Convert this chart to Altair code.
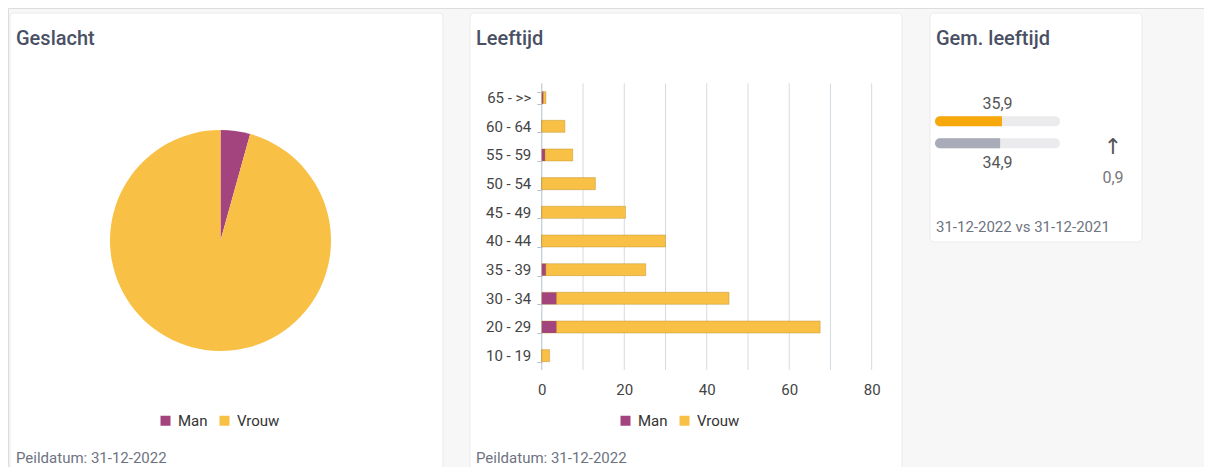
import altair as alt
import pandas as pd

# ---------------- data ----------------
age_groups = ["65 - >>", "60 - 64", "55 - 59", "50 - 54", "45 - 49",
              "40 - 44", "35 - 39", "30 - 34", "20 - 29", "10 - 19"]
man = [0.4, 0.0, 0.8, 0.0, 0.0, 0.0, 1.0, 3.6, 3.6, 0.0]
vrouw = [0.6, 5.6, 6.7, 13.0, 20.3, 30.0, 24.2, 41.8, 63.9, 1.9]
genders = ["Man", "Vrouw"]
gender_colors = ["#a3447e", "#f8c146"]
x_ticks = [0, 20, 40, 60, 80]
grid_values = [10, 20, 30, 40, 50, 60, 70, 80]

gem_labels = ["31-12-2022", "31-12-2021"]
gem_values = [35.9, 34.9]
gem_text = ["35,9", "34,9"]
gem_max = 67
gem_colors = ["#f7a80b", "#a9abb9"]
diff_text = "0,9"

FONT = "Roboto"

# ---------------- tables ----------------
rows = []
for g, m, v in zip(age_groups, man, vrouw):
    rows.append({"groep": g, "geslacht": "Man", "aantal": m, "volg": 0})
    rows.append({"groep": g, "geslacht": "Vrouw", "aantal": v, "volg": 1})
bar_df = pd.DataFrame(rows)
pie_df = pd.DataFrame({"geslacht": genders, "totaal": [sum(man), sum(vrouw)], "volg": [0, 1]})
grid_df = pd.DataFrame({"tick": grid_values})
zero_df = pd.DataFrame({"tick": [0]})
gem_df = pd.DataFrame({"datum": gem_labels, "waarde": gem_values, "tekst": gem_text,
                       "nul": [0, 0], "max": [gem_max, gem_max]})
one = pd.DataFrame({"a": [0]})

# ---------------- cards ----------------
def card(x1, x2, y1, y2):
    return alt.Chart(one).mark_rect(fill="white", stroke="#ebebeb", strokeWidth=1,
                                    cornerRadius=4).encode(
        x=alt.value(x1), x2=alt.value(x2), y=alt.value(y1), y2=alt.value(y2))

def label(txt, x, y, size, color, weight="normal", align="left", font=FONT):
    return alt.Chart(one).mark_text(text=txt, font=font, fontSize=size, color=color,
                                    fontWeight=weight, align=align,
                                    baseline="alphabetic").encode(
        x=alt.value(x), y=alt.value(y))

cards = [card(2, 435, 5, 472), card(462, 894, 5, 472), card(922, 1134, 5, 234)]

TITLE_C = "#4a5064"
FOOT_C = "#6e7382"
texts = [
    label("Geslacht", 8, 37, 20, TITLE_C, 500),
    label("Leeftijd", 468, 37, 20, TITLE_C, 500),
    label("Gem. leeftijd", 928, 37, 20, TITLE_C, 500),
    label("Peildatum: 31-12-2022", 8, 455, 15, FOOT_C),
    label("Peildatum: 31-12-2022", 468, 455, 15, FOOT_C),
    label("31-12-2022 vs 31-12-2021", 928, 223.5, 15, FOOT_C),
    label("\u2191", 1105, 146, 22, "#555555", align="center", font="DejaVu Sans"),
    label(diff_text, 1105, 175, 16, "#777777", align="center"),
]

def legend(x, y):
    return alt.Legend(orient="none", legendX=x, legendY=y, direction="horizontal",
                      title=None, symbolType="square", symbolSize=100,
                      symbolStrokeWidth=0, labelFontSize=15, labelFont=FONT,
                      labelColor="#333333", columnPadding=9, labelOffset=5,
                      padding=0, zindex=1)

# ---------------- pie ----------------
pie = alt.Chart(pie_df).mark_arc(radius=110.5, strokeWidth=0).encode(
    theta=alt.Theta("totaal:Q", stack=True),
    order=alt.Order("volg:Q", sort="ascending"),
    color=alt.Color("geslacht:N", scale=alt.Scale(domain=genders, range=gender_colors),
                    legend=legend(150, 405)),
    x=alt.value(212.5), y=alt.value(232.5),
)

# ---------------- bar chart ----------------
AXIS_C = "#b4c1cc"
x_scale = alt.Scale(domain=[0, 80], range=[533.8, 863.7], nice=False, zero=True)
y_scale = alt.Scale(domain=age_groups, range=[75.3, 362], paddingInner=0.58,
                    paddingOuter=0.29)
x_axis = alt.Axis(orient="bottom", offset=-97, title=None, domain=False, ticks=False,
                  grid=False, values=x_ticks, labelFontSize=15, labelFont=FONT,
                  labelColor="#444444", labelPadding=12, labelFlush=False, zindex=1)

grid = alt.Chart(grid_df).mark_rule(color="#d3dce2", strokeWidth=1).encode(
    x=alt.X("tick:Q", scale=x_scale, axis=x_axis),
    y=alt.value(75.3), y2=alt.value(362),
)
domain_line = alt.Chart(zero_df).mark_rule(color=AXIS_C, strokeWidth=1).encode(
    x=alt.X("tick:Q", scale=x_scale, axis=x_axis),
    y=alt.value(75.3), y2=alt.value(362),
)

bars = alt.Chart(bar_df).mark_bar(stroke="#b07a10", strokeOpacity=0.35,
                                  strokeWidth=1).encode(
    x=alt.X("aantal:Q", stack="zero", scale=x_scale, axis=x_axis),
    y=alt.Y("groep:N", sort=age_groups, scale=y_scale,
            axis=alt.Axis(orient="left", offset=-533.8, title=None, domain=False,
                          tickColor=AXIS_C, tickSize=5, tickOffset=0,
                          tickBand="extent", labelFontSize=15, labelFont=FONT,
                          labelColor="#444444", labelPadding=6, grid=False,
                          zindex=1)),
    color=alt.Color("geslacht:N", scale=alt.Scale(domain=genders, range=gender_colors),
                    legend=legend(610, 405)),
    order=alt.Order("volg:Q", sort="ascending"),
)
bar_layer = alt.layer(grid, domain_line, bars)

# ---------------- gem. leeftijd ----------------
g_x = alt.Scale(domain=[0, gem_max], range=[927, 1052], nice=False, zero=True)
g_y = alt.Scale(type="point", domain=gem_labels, range=[113.2, 135.3], padding=0)

track = alt.Chart(gem_df).mark_bar(size=10, cornerRadius=5, color="#ebebed").encode(
    x=alt.X("nul:Q", scale=g_x, axis=None), x2="max:Q",
    y=alt.Y("datum:N", scale=g_y, axis=None),
)
fill = alt.Chart(gem_df).mark_bar(size=10, cornerRadiusTopLeft=5,
                                  cornerRadiusBottomLeft=5).encode(
    x=alt.X("nul:Q", scale=g_x, axis=None), x2="waarde:Q",
    y=alt.Y("datum:N", scale=g_y, axis=None),
    color=alt.Color("datum:N", scale=alt.Scale(domain=gem_labels, range=gem_colors),
                    legend=None),
)

def val_text(which, dy):
    return alt.Chart(gem_df).transform_filter(
        alt.datum.datum == which
    ).mark_text(font=FONT, fontSize=16, color="#555555", align="center",
                baseline="alphabetic", dy=dy).encode(
        x=alt.value(989.5),
        y=alt.Y("datum:N", scale=g_y, axis=None),
        text="tekst:N",
    )

gem_layer = alt.layer(track, fill, val_text(gem_labels[0], -12), val_text(gem_labels[1], 25))

chart = alt.layer(*cards, *texts, pie, bar_layer, gem_layer).resolve_scale(
    x="independent", y="independent", color="independent", theta="independent"
).properties(
    width=1196, height=459, padding=0, background="#f7f7f7",
    autosize=alt.AutoSizeParams(type="none"),
).configure_view(stroke=None).configure(font=FONT)

chart.save("out.html", embed_options={"renderer": "svg", "actions": False})
